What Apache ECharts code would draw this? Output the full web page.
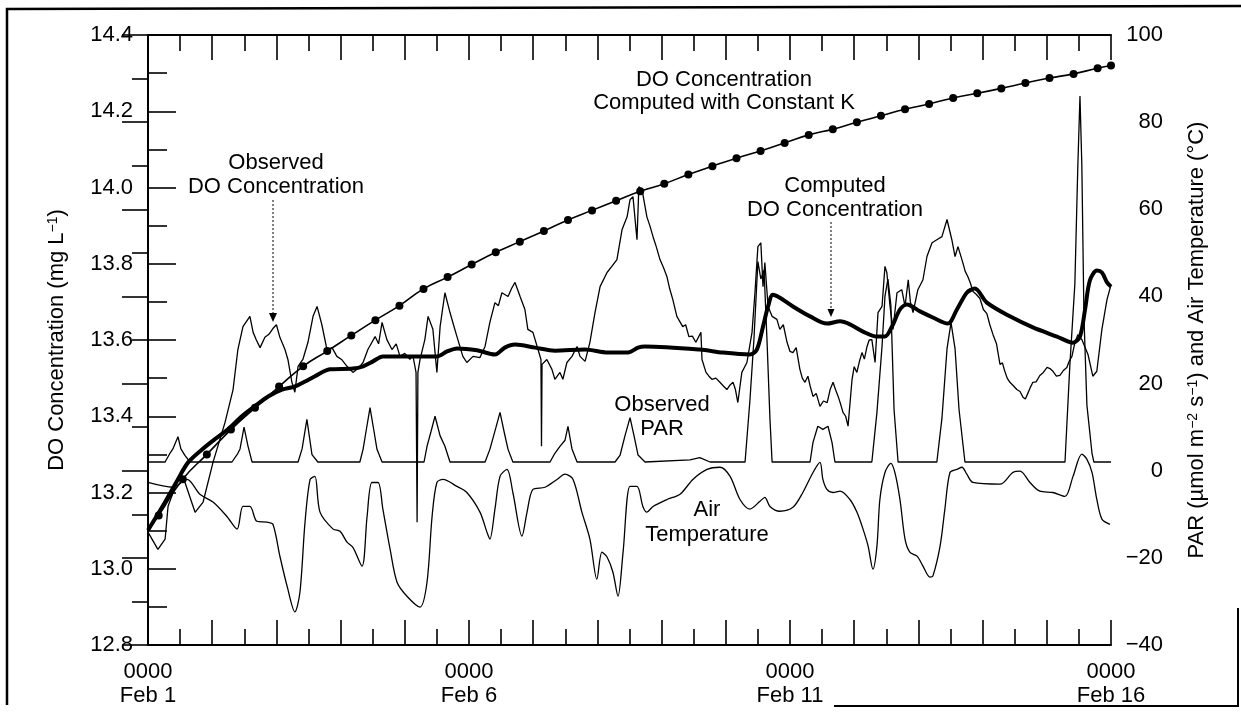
<!DOCTYPE html>
<html><head><meta charset="utf-8">
<script src="https://cdn.jsdelivr.net/npm/echarts@6/dist/echarts.min.js"></script>
<style>html,body{margin:0;padding:0;background:#fff}#c{width:1241px;height:715px}</style>
</head><body><div id="c"></div>
<script>
// ---- x axis: hours since 0000 Feb 1 ----
const xTickHours = [0, 120, 240, 360];
const xTickLabels = ['0000\nFeb 1', '0000\nFeb 6', '0000\nFeb 11', '0000\nFeb 16'];

// ---- DO computed with constant K (mg/L) ----
const constKHours = [0,4,13,22,31,40,49,58,67,76,85,94,103,112,121,130,139,148,157,166,175,184,193,202,211,220,229,238,247,256,265,274,283,292,301,310,319,328,337,346,355,360];
const constKValues = [13.10,13.14,13.235,13.30,13.365,13.422,13.478,13.531,13.571,13.612,13.652,13.69,13.734,13.765,13.798,13.83,13.858,13.886,13.915,13.94,13.965,13.99,14.01,14.034,14.056,14.077,14.096,14.117,14.138,14.153,14.171,14.188,14.205,14.219,14.235,14.247,14.26,14.274,14.287,14.298,14.313,14.32];

// ---- Observed DO (mg/L), [hour, value] ----
const observedDO = [[0,13.096],[3.7,13.051],[6.4,13.078],[7.5,13.164],[11.2,13.235],[13.8,13.227],[17.6,13.148],[20.6,13.175],[24.3,13.279],[28.8,13.384],[31.8,13.470],[33.6,13.575],[35.5,13.635],[38.1,13.662],[39.3,13.620],[40.5,13.600],[41.9,13.580],[43.7,13.607],[45.2,13.615],[46.7,13.630],[48.0,13.640],[49.3,13.607],[51.2,13.575],[52.3,13.549],[53.8,13.489],[54.9,13.463],[56.1,13.531],[57.9,13.549],[59.8,13.594],[61.7,13.662],[63.2,13.688],[65.0,13.640],[66.9,13.575],[68.8,13.580],[70.6,13.557],[72.5,13.548],[74.4,13.531],[76.6,13.515],[78.5,13.525],[80.4,13.541],[82.2,13.575],[84.9,13.609],[86.2,13.590],[87.5,13.646],[89.3,13.601],[91.2,13.575],[92.8,13.590],[94.2,13.557],[96.0,13.565],[97.9,13.549],[99.0,13.560],[100.2,13.515],[100.6,13.122],[100.9,13.515],[101.7,13.549],[103.5,13.601],[104.7,13.662],[106.5,13.628],[108.0,13.515],[109.2,13.635],[111.0,13.724],[112.9,13.672],[114.2,13.640],[115.5,13.609],[117.7,13.557],[119.2,13.541],[121.5,13.557],[124.1,13.554],[126.0,13.583],[127.8,13.646],[129.7,13.698],[131.0,13.690],[132.3,13.724],[134.6,13.714],[135.9,13.735],[137.2,13.751],[139.1,13.714],[140.9,13.680],[142.0,13.628],[143.9,13.620],[145.8,13.575],[146.9,13.549],[147.1,13.321],[147.3,13.536],[149.1,13.549],[151.0,13.523],[152.1,13.497],[154.0,13.515],[155.1,13.497],[156.6,13.541],[158.5,13.557],[160.4,13.583],[161.5,13.557],[163.4,13.544],[165.2,13.594],[167.1,13.672],[169.0,13.740],[171.6,13.777],[173.4,13.793],[175.3,13.811],[177.2,13.889],[179.1,13.923],[180.2,13.968],[181.3,13.976],[182.8,13.863],[183.5,14.002],[184.7,13.994],[186.5,13.923],[187.6,13.900],[188.8,13.871],[190.0,13.845],[191.4,13.811],[192.7,13.790],[194.0,13.766],[195.0,13.735],[196.2,13.706],[197.7,13.662],[199.9,13.635],[201.0,13.640],[202.2,13.609],[203.5,13.610],[204.8,13.594],[206.7,13.620],[207.1,13.549],[208.6,13.515],[209.7,13.505],[210.8,13.497],[212.3,13.500],[213.8,13.489],[215.0,13.480],[216.4,13.470],[217.6,13.482],[218.7,13.489],[219.6,13.470],[220.5,13.436],[222.0,13.515],[223.9,13.541],[225.8,13.620],[226.9,13.724],[228.0,13.845],[229.1,13.855],[229.9,13.740],[230.6,13.803],[231.8,13.688],[233.3,13.662],[235.1,13.654],[236.2,13.628],[237.5,13.640],[238.9,13.594],[240.0,13.570],[241.1,13.567],[242.3,13.580],[243.7,13.523],[244.6,13.500],[245.6,13.489],[246.7,13.505],[247.5,13.480],[248.6,13.452],[249.8,13.460],[251.2,13.426],[252.5,13.440],[253.9,13.436],[255.0,13.470],[256.1,13.489],[257.0,13.470],[258.0,13.452],[259.0,13.430],[259.8,13.410],[260.8,13.400],[261.7,13.374],[263.2,13.497],[264.0,13.530],[265.0,13.515],[266.0,13.545],[266.9,13.567],[267.8,13.550],[268.8,13.583],[269.6,13.600],[270.6,13.601],[271.8,13.541],[272.9,13.672],[274.4,13.688],[275.5,13.793],[276.2,13.777],[277.4,13.688],[278.5,13.628],[280.0,13.724],[281.8,13.732],[283.0,13.688],[284.2,13.758],[285.0,13.700],[286.0,13.672],[287.8,13.732],[289.7,13.758],[291.2,13.819],[293.1,13.855],[294.9,13.863],[296.8,13.871],[298.7,13.916],[300.5,13.863],[301.7,13.819],[302.8,13.845],[303.5,13.850],[304.6,13.803],[305.5,13.780],[306.5,13.766],[307.4,13.750],[308.4,13.727],[309.6,13.720],[311.0,13.709],[312.3,13.680],[313.6,13.669],[314.7,13.640],[315.9,13.614],[317.2,13.590],[318.5,13.536],[319.4,13.540],[320.3,13.518],[321.2,13.500],[322.2,13.489],[323.5,13.480],[324.8,13.470],[326.0,13.465],[327.1,13.450],[328.0,13.445],[328.9,13.460],[329.8,13.475],[330.8,13.489],[332.0,13.490],[333.4,13.507],[334.7,13.515],[336.1,13.528],[337.2,13.525],[338.3,13.518],[339.6,13.505],[340.9,13.507],[342.2,13.520],[343.5,13.528],[344.4,13.545],[345.4,13.557],[346.5,13.593],[347.6,13.614],[349.1,13.601],[351.4,13.562],[353.2,13.505],[354.7,13.518],[356.6,13.628],[358.5,13.706],[360,13.745]];

// ---- Computed DO (mg/L), [hour, value] ----
const computedDO = [[0,13.101],[6.4,13.175],[11.2,13.235],[15.0,13.279],[20.2,13.313],[25.0,13.34],[29.9,13.366],[35.1,13.40],[39.9,13.426],[44.9,13.452],[50.1,13.47],[54.9,13.478],[58.7,13.491],[62.4,13.505],[68.0,13.523],[76.6,13.525],[80.4,13.531],[84.1,13.544],[87.8,13.557],[97.9,13.557],[108.0,13.557],[111.8,13.57],[115.5,13.578],[123.0,13.573],[129.7,13.562],[133.4,13.58],[137.2,13.588],[144.7,13.58],[152.1,13.572],[163.4,13.575],[171.9,13.567],[179.4,13.567],[183.2,13.58],[185.8,13.583],[206.3,13.575],[214.9,13.567],[225.0,13.562],[227.6,13.575],[229.9,13.635],[231.8,13.688],[233.6,13.719],[236.2,13.711],[241.1,13.688],[247.5,13.662],[253.8,13.643],[258.7,13.649],[262.4,13.641],[267.3,13.622],[272.5,13.609],[275.5,13.609],[278.1,13.635],[281.1,13.68],[283.7,13.693],[288.6,13.675],[293.4,13.659],[299.0,13.643],[302.4,13.68],[306.1,13.724],[309.1,13.735],[313.6,13.698],[322.2,13.662],[330.8,13.633],[339.8,13.609],[345.8,13.593],[348.4,13.609],[350.3,13.68],[352.1,13.756],[354.7,13.782],[356.6,13.777],[358.5,13.751],[360,13.74]];

// ---- Observed PAR (umol m-2 s-1), [hour, value] ----
const observedPAR = [[0,2],[6.4,2],[8.2,4],[9.3,5],[11.2,7.8],[12.3,5],[13.8,3.5],[15.7,2],[31.4,2],[33.6,4],[34.4,5],[35.9,10],[37.4,5.6],[38.9,2],[56.1,2],[57.6,5],[59.4,11.8],[61.3,3.7],[63.5,2],[79.2,2],[80.4,4.9],[81.5,9],[83.0,14.5],[84.5,9],[85.6,4.9],[87.5,2],[103.2,2],[104.3,5.6],[105.8,9],[107.3,12.5],[109.2,8],[111.0,5.6],[112.9,2],[126.0,2],[127.8,4.9],[130.1,10],[131.6,13.4],[133.1,9],[134.6,4.9],[136.4,2],[150.3,2],[152.1,4],[154.0,5.6],[155.9,7],[157.0,10.2],[158.5,5],[160.4,2],[174.6,2],[176.5,3.6],[178.3,8],[180.2,12.2],[181.7,8],[183.2,3.6],[185.8,2],[202.6,2.5],[206.3,3],[210.1,2],[223.2,2],[225.0,16],[226.5,30],[228.0,48],[229.1,44],[230.3,46],[231.4,30],[232.5,12],[233.3,2],[247.5,2],[248.6,6.5],[250.4,10.2],[252.3,9.5],[254.2,10.2],[255.7,6.5],[256.8,2],[270.6,2],[272.5,13.4],[274.4,28.5],[275.5,40],[276.6,44],[277.7,38],[278.9,14],[280.4,2],[294.9,2],[296.8,12],[298.7,28],[300.2,34],[301.7,28],[303.2,14],[305.4,2],[342.8,2],[344.6,24],[346.5,43],[347.6,70],[348.4,86],[349.1,70],[349.9,35],[351.0,15],[352.9,4],[353.6,2],[360,2]];

// ---- Air temperature (deg C), [hour, value] ----
const airTemp = [[0,-2.7],[9.3,-3.8],[14.6,-2.0],[19.4,-5.4],[24.3,-7.2],[29.5,-10.5],[33.3,-13.4],[35.5,-8.2],[38.1,-8.2],[40.7,-11.6],[44.5,-11.8],[46.7,-12.3],[49.3,-19.6],[52.0,-26.5],[54.9,-32.4],[56.8,-27.9],[58.7,-11.8],[60.6,-2.0],[62.4,-1.3],[64.3,-9.5],[69.2,-13.4],[71.8,-13.9],[74.4,-16.4],[76.6,-17.6],[80.0,-21.9],[81.9,-10.5],[83.7,-2.7],[86.0,-2.7],[87.8,-8.8],[90.5,-18.0],[93.1,-25.6],[96.8,-28.8],[101.7,-31.3],[104.3,-25.6],[106.2,-10.5],[108.0,-2.7],[110.3,-2.0],[115.5,-3.6],[119.2,-5.0],[124.1,-9.5],[126.7,-14.1],[127.8,-15.7],[129.7,-8.8],[131.6,-1.3],[134.2,0.3],[136.4,-5.0],[139.8,-15.0],[141.7,-9.5],[143.9,-4.3],[148.4,-3.8],[152.9,-2.0],[155.9,-0.8],[158.9,-2.0],[162.2,-9.5],[165.2,-15.7],[167.8,-24.9],[169.7,-18.7],[171.6,-19.8],[173.8,-23.3],[175.7,-28.8],[177.6,-18.7],[180.2,-3.6],[182.8,-3.6],[185.0,-8.2],[186.5,-9.5],[188.8,-8.2],[194.0,-6.6],[198.9,-5.4],[203.7,-2.0],[209.0,0.3],[213.8,0.8],[217.6,-1.3],[221.3,-6.6],[225.0,-8.8],[228.8,-7.0],[230.6,-6.1],[232.5,-8.2],[236.2,-9.3],[241.1,-8.4],[244.8,-5.0],[248.6,-0.4],[251.2,1.9],[252.3,-2.0],[253.8,-4.3],[256.1,-5.0],[258.7,-4.7],[262.4,-6.6],[265.0,-9.5],[267.3,-13.4],[269.2,-17.3],[271.0,-22.6],[272.5,-17.3],[273.6,-6.6],[275.5,-0.4],[277.7,1.7],[279.2,-0.4],[281.1,-6.6],[283.0,-15.7],[284.8,-18.7],[287.5,-19.6],[289.7,-21.9],[292.3,-24.4],[293.4,-24.2],[296.1,-17.3],[297.9,-8.8],[299.8,-0.4],[302.4,0.3],[304.3,0.8],[306.1,-0.8],[308.4,-2.7],[318.5,-3.1],[323.3,-0.4],[326.0,-0.1],[329.7,-2.7],[333.4,-4.7],[338.3,-5.0],[342.8,-5.9],[345.8,-1.3],[349.1,3.8],[351.0,2.6],[352.9,-0.4],[354.7,-6.6],[356.6,-11.1],[359.6,-12.3]];

const FONT = '"Liberation Sans", Arial, Helvetica, sans-serif';
const BLACK = '#000';

const chart = echarts.init(document.getElementById('c'), null, {renderer: 'canvas'});

const tickLine = {color: BLACK, width: 1.6};
const xAxisBase = {
  type: 'value', min: 0, max: 360, interval: 24,
  axisLine: {show: true, onZero: false, lineStyle: {color: BLACK, width: 2}},
  axisTick: {show: true, inside: true, length: 25, lineStyle: tickLine},
  minorTick: {show: true, splitNumber: 2, length: 16, lineStyle: tickLine},
  splitLine: {show: false}
};

const annot = (x, y, text) => ({
  type: 'text', x: x, y: y, silent: true,
  style: {text: text, font: '22px ' + FONT, fill: BLACK, align: 'center', verticalAlign: 'middle'}
});

chart.setOption({
  animation: false,
  backgroundColor: '#fff',
  grid: {left: 148, right: 130, top: 35, bottom: 70, containLabel: false},
  xAxis: [
    Object.assign({}, xAxisBase, {
      position: 'bottom',
      axisLabel: {
        show: true, margin: 15, color: BLACK, fontFamily: FONT, fontSize: 22, lineHeight: 24,
        showMinLabel: true, showMaxLabel: true,
        formatter: function (v) { const i = xTickHours.indexOf(v); return i >= 0 ? xTickLabels[i] : ''; }
      }
    }),
    Object.assign({}, xAxisBase, {position: 'top', axisLabel: {show: false}})
  ],
  yAxis: [
    {
      type: 'value', min: 12.8, max: 14.4, interval: 0.2, position: 'left',
      axisLine: {show: true, lineStyle: {color: BLACK, width: 2}},
      axisTick: {show: true, inside: true, length: 28, lineStyle: tickLine},
      minorTick: {show: true, splitNumber: 2, length: 19, lineStyle: tickLine},
      splitLine: {show: false},
      axisLabel: {margin: 15, color: BLACK, fontFamily: FONT, fontSize: 22, formatter: v => v.toFixed(1)},
      name: 'DO Concentration (mg L{sup|\u22121})',
      nameLocation: 'middle', nameGap: 80,
      nameTextStyle: {color: BLACK, fontFamily: FONT, fontSize: 22,
        rich: {sup: {fontSize: 14, fontFamily: FONT, color: BLACK, verticalAlign: 'top', lineHeight: 22}}}
    },
    {
      type: 'value', min: -40, max: 100, interval: 20, position: 'right',
      axisLine: {show: true, lineStyle: {color: BLACK, width: 2}},
      axisTick: {show: true, inside: true, length: 26, lineStyle: tickLine},
      minorTick: {show: true, splitNumber: 2, length: 16, lineStyle: tickLine},
      splitLine: {show: false},
      axisLabel: {margin: 52, align: 'right', color: BLACK, fontFamily: FONT, fontSize: 22,
        formatter: v => (v < 0 ? '\u2212' + Math.abs(v) : String(v))},
      name: 'PAR (\u00b5mol m{sup|\u22122} s{sup|\u22121}) and Air Temperature (\u00b0C)',
      nameLocation: 'middle', nameGap: 75,
      nameTextStyle: {color: BLACK, fontFamily: FONT, fontSize: 22,
        rich: {sup: {fontSize: 14, fontFamily: FONT, color: BLACK, verticalAlign: 'top', lineHeight: 22}}}
    }
  ],
  series: [
    {
      name: 'Observed DO', type: 'line', xAxisIndex: 0, yAxisIndex: 0,
      data: observedDO, showSymbol: false, symbol: 'none',
      lineStyle: {color: BLACK, width: 1.3}, z: 3
    },
    {
      name: 'Observed PAR', type: 'line', xAxisIndex: 0, yAxisIndex: 1,
      data: observedPAR, showSymbol: false, symbol: 'none',
      lineStyle: {color: BLACK, width: 1.3}, z: 3
    },
    {
      name: 'Air Temperature', type: 'line', xAxisIndex: 0, yAxisIndex: 1,
      data: airTemp, showSymbol: false, symbol: 'none', smooth: 0.3,
      lineStyle: {color: BLACK, width: 1.3}, z: 3
    },
    {
      name: 'Computed DO', type: 'line', xAxisIndex: 0, yAxisIndex: 0,
      data: computedDO, showSymbol: false, symbol: 'none', smooth: 0.3,
      lineStyle: {color: BLACK, width: 4}, z: 4
    },
    {
      name: 'DO Computed with Constant K', type: 'line', xAxisIndex: 0, yAxisIndex: 0,
      data: constKHours.map((h, i) => ({value: [h, constKValues[i]], symbol: i === 0 ? 'none' : 'circle'})),
      smooth: true, symbol: 'circle', symbolSize: 8, showSymbol: true,
      itemStyle: {color: BLACK}, lineStyle: {color: BLACK, width: 1.6}, z: 5
    }
  ],
  graphic: [
    // figure frame
    {type: 'polyline', shape: {points: [[7, 705], [7, 9], [1241, 6]]}, style: {stroke: BLACK, lineWidth: 2.5, fill: null}, silent: true},
    {type: 'polyline', shape: {points: [[834, 706], [1238, 706], [1238, 608]]}, style: {stroke: BLACK, lineWidth: 2, fill: null}, silent: true},
    // annotations
    annot(724, 80, 'DO Concentration'),
    annot(724, 103, 'Computed with Constant K'),
    annot(276, 163, 'Observed'),
    annot(276, 187, 'DO Concentration'),
    annot(835, 186, 'Computed'),
    annot(835, 210, 'DO Concentration'),
    annot(662, 405, 'Observed'),
    annot(662, 429, 'PAR'),
    annot(707, 510, 'Air'),
    annot(707, 535, 'Temperature'),
    // dotted pointer arrows
    {type: 'line', shape: {x1: 273, y1: 200, x2: 273, y2: 315}, style: {stroke: BLACK, lineWidth: 1, lineDash: [2, 2]}, silent: true},
    {type: 'polygon', shape: {points: [[269, 313], [277, 313], [273, 322]]}, style: {fill: BLACK}, silent: true},
    {type: 'line', shape: {x1: 831, y1: 222, x2: 831, y2: 310}, style: {stroke: BLACK, lineWidth: 1, lineDash: [2, 2]}, silent: true},
    {type: 'polygon', shape: {points: [[827.5, 309], [834.5, 309], [831, 317]]}, style: {fill: BLACK}, silent: true}
  ]
});
</script>
</body></html>
